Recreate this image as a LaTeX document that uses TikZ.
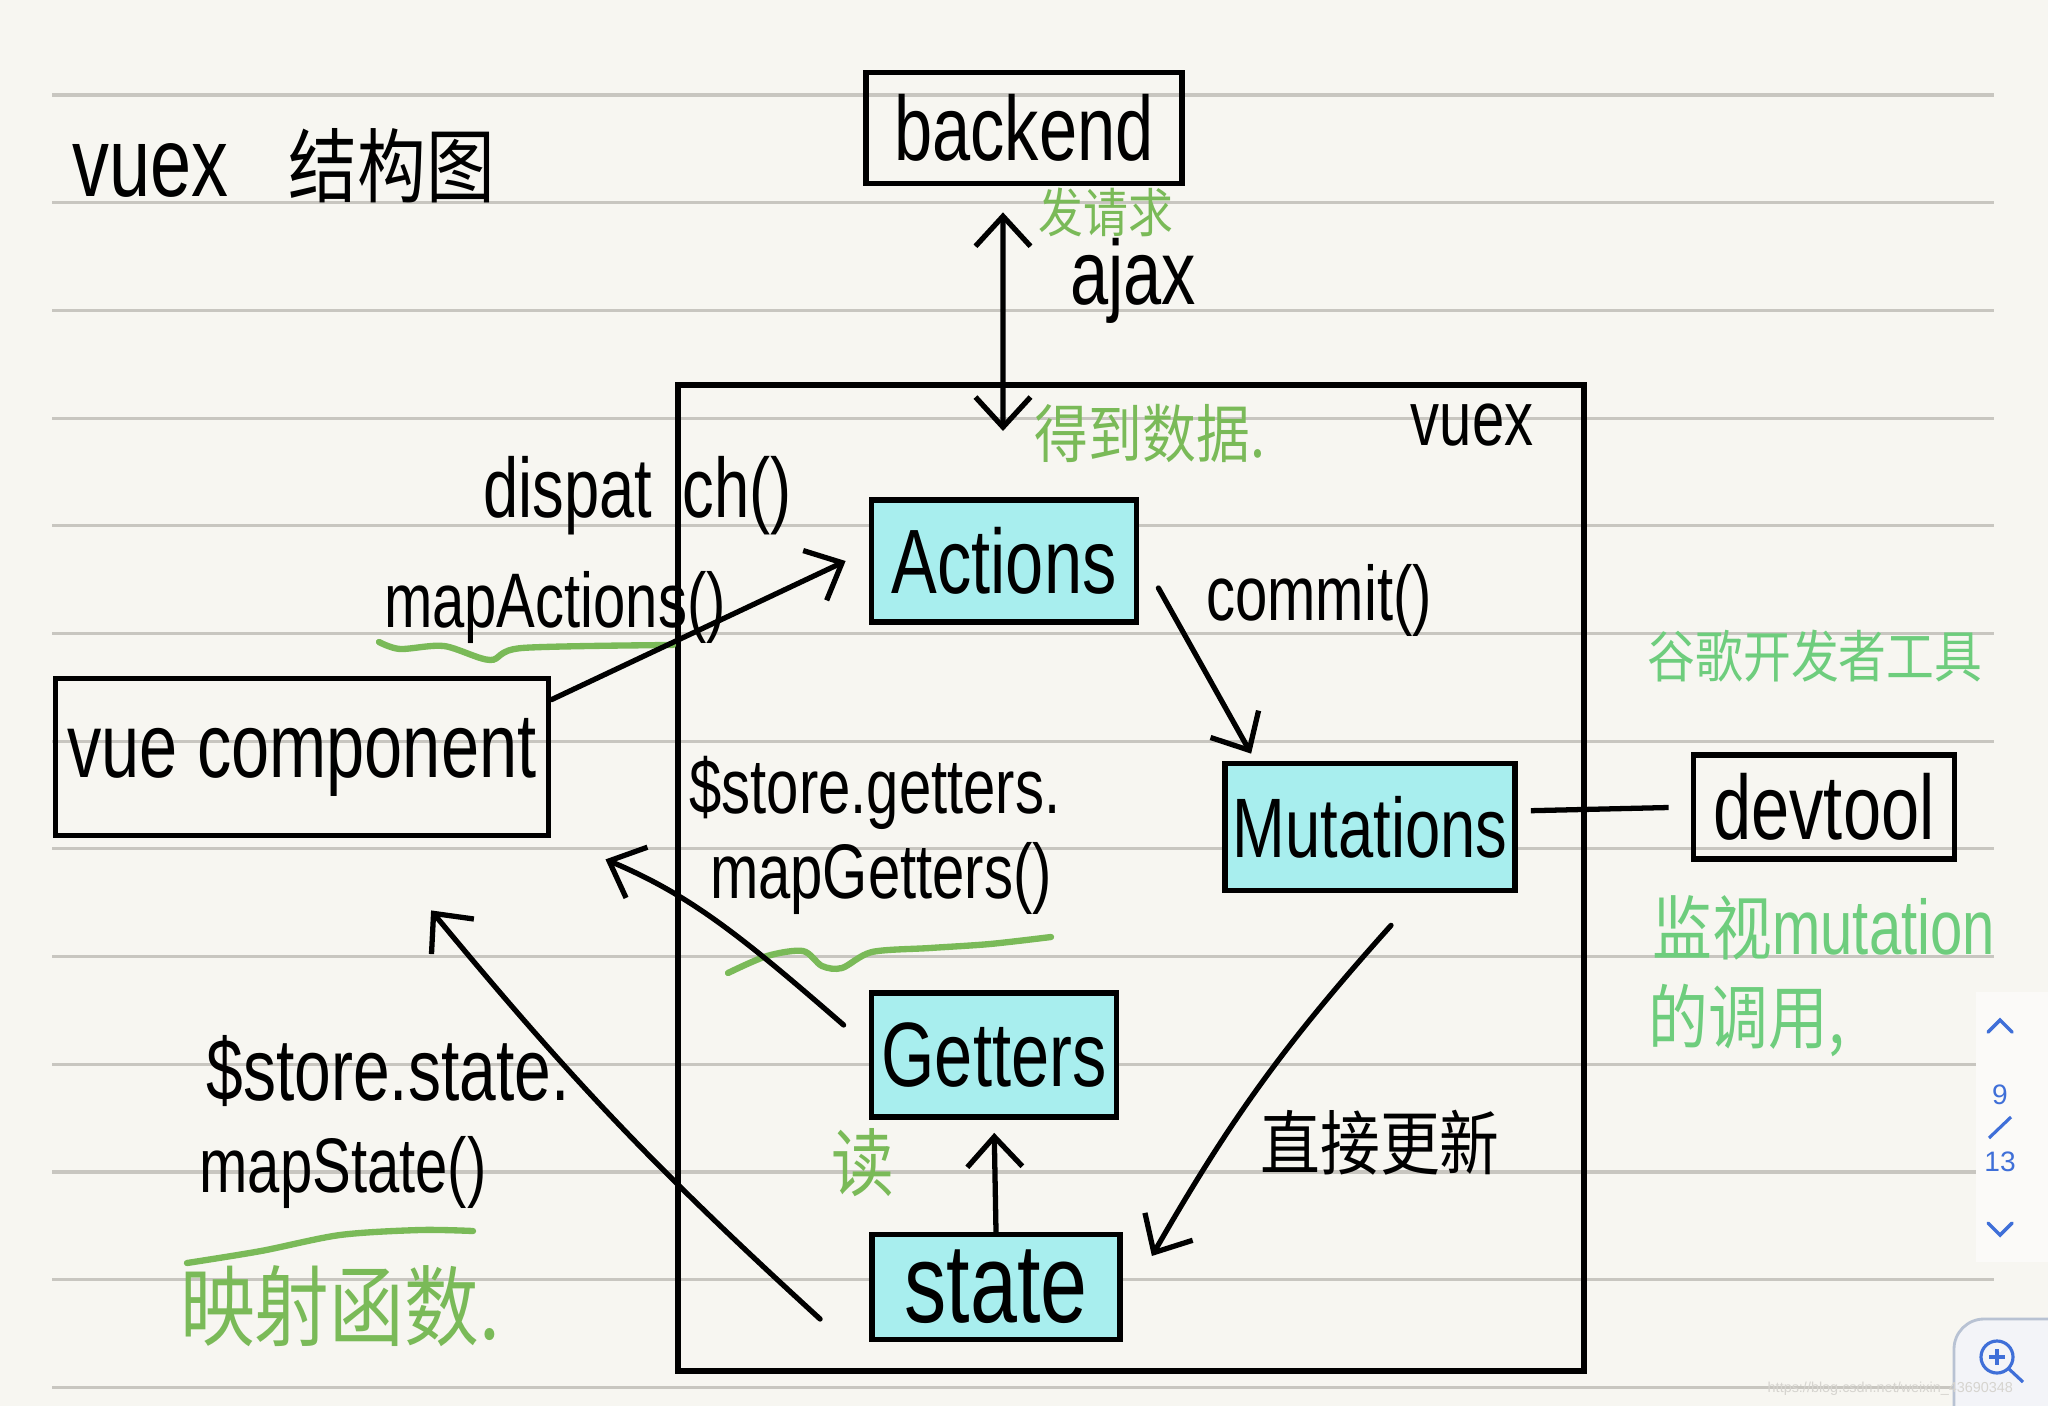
\documentclass[tikz,border=0pt]{standalone}
\usepackage{fontspec}
\setmainfont[FakeStretch=0.75]{Liberation Sans}
\newfontfamily\cjk[FakeStretch=0.85]{Noto Sans CJK SC}
\newfontfamily\uifont{Liberation Sans}
\usetikzlibrary{calc,positioning,arrows.meta,shapes}
\definecolor{paper}{HTML}{F7F6F1}
\definecolor{rulegray}{HTML}{C8C6C0}
\definecolor{hlcyan}{HTML}{A8EEEE}
\definecolor{pengreen}{HTML}{7ABA58}
\definecolor{lightgreen}{HTML}{6ECD7D}
\definecolor{uiblue}{HTML}{3F6FD8}
\definecolor{uibg}{HTML}{F3F4F8}
\definecolor{uiborder}{HTML}{B8C2D3}
\definecolor{wmgray}{HTML}{D6D4CF}
\newcommand\fsz[1]{\fontsize{#1}{#1}\selectfont}
\tikzset{
    block/.style={rectangle, draw=black, fill=hlcyan, line width=1.6pt, inner sep=0pt},
    plainbox/.style={rectangle, draw=black, line width=1.6pt, inner sep=0pt},
    line/.style={-{Straight Barb[length=3mm,width=5.5mm]}, line width=1.5pt, line cap=round},
    dline/.style={{Straight Barb[length=3mm,width=5.5mm]}-{Straight Barb[length=3mm,width=5.5mm]}, line width=1.5pt},
    lbl/.style={inner sep=0pt},
    note/.style={inner sep=0pt, text=pengreen},
    notebright/.style={inner sep=0pt, text=lightgreen},
    wave/.style={pengreen, line width=1.8pt, line cap=round},
}

\begin{document}
\begin{tikzpicture}
        [x=0.01cm, y=-0.01cm]

        % Paper and ruled lines
        \fill[paper] (0,0) rectangle (2048,1406);
        \useasboundingbox (0,0) rectangle (2048,1406);
        \foreach \k in {0,...,12}
            \draw[rulegray, line width=0.9pt] (52,95+107.7*\k) -- (1994,95+107.7*\k);
        \fill[paper!50!white] (1976,992) rectangle (2048,1262);

        % Title
        \node[lbl, anchor=west] (title) at (72,166) {\fsz{28}vuex\hspace{0.6cm}{\cjk\fsz{23}结构图}};

        % Nodes outside the store
        \node[plainbox, minimum width=3.16cm, minimum height=1.11cm] (backend) at (1024,128) {\fsz{26}backend};
        \node[plainbox, minimum width=4.93cm, minimum height=1.57cm] (vue) at (302,757) {\fsz{26}vue component};
        \node[plainbox, minimum width=2.61cm, minimum height=1.04cm] (devtool) at (1824,807) {\fsz{26}devtool};

        % The store and its parts
        \node[plainbox, minimum width=9.06cm, minimum height=9.86cm] (store) at (1131,878) {};
        \node[lbl] (vuexlbl) at (1472,425) {\fsz{22}vuex};
        \node[block, minimum width=2.65cm, minimum height=1.22cm] (actions) at (1004,561) {\fsz{26}Actions};
        \node[block, minimum width=2.90cm, minimum height=1.27cm] (mutations) at (1370,827) {\fsz{24}Mutations};
        \node[block, minimum width=2.45cm, minimum height=1.24cm] (getters) at (994,1055) {\fsz{26}Getters};
        \node[block, minimum width=2.48cm, minimum height=1.05cm] (state) at (996,1287) {\fsz{32}state};

        % Labels
        \node[note] (sendreq) at (1106,212) {\cjk\fsz{15}发请求};
        \node[lbl] (ajax) at (1133,281) {\fsz{26}ajax};
        \node[note] (gotdata) at (1150,434) {\cjk\fsz{18}得到数据.};
        \node[lbl, anchor=west] (dispatch) at (483,496) {\fsz{24}dispat\hspace{0.3cm}ch()};
        \node[lbl] (mapactions) at (555,607) {\fsz{22}mapActions()};
        \node[lbl] (commit) at (1319,600) {\fsz{22}commit()};
        \node[lbl] (gettersrc) at (875,793) {\fsz{22}\$store.getters.};
        \node[lbl] (mapgetters) at (881,878) {\fsz{22}mapGetters()};
        \node[lbl] (statesrc) at (388,1071) {\fsz{25}\$store.state.};
        \node[lbl] (mapstate) at (343,1172) {\fsz{22}mapState()};
        \node[note] (mapfn) at (340,1306) {\cjk\fsz{25}映射函数.};
        \node[note] (read) at (863,1163) {\cjk\fsz{21}读};
        \node[lbl] (directupd) at (1380,1143) {\cjk\fsz{20}直接更新};
        \node[notebright] (devnote) at (1815,656) {\cjk\fsz{16}谷歌开发者工具};
        \node[notebright, anchor=west] (watchnote) at (1652,928) {{\cjk\fsz{20}监视}\fsz{22}mutation};
        \node[notebright, anchor=west] (callnote) at (1648,1020) {\cjk\fsz{20}的调用,};

        % Green underlines
        \draw[wave] plot[smooth] coordinates {(379,642) (400,649) (444,646) (490,660) (522,648) (673,645)};
        \draw[wave] plot[smooth] coordinates {(728,973) (767,956) (803,951) (822,966) (842,968) (872,952) (930,948) (990,944) (1051,937)};
        \draw[wave] plot[smooth] coordinates {(187,1263) (261,1251) (340,1235) (420,1230) (473,1231)};

        % Lines
        \coordinate (getdata) at (1003,431);
        \draw[dline] ([xshift=-0.21cm,yshift=-0.26cm]backend.south) -- (getdata);
        \draw[line] ([yshift=-0.24cm]vue.north east) -- ([xshift=-0.23cm]actions.west);
        \draw[line] ([xshift=0.19cm,yshift=-0.27cm]actions.east) -- ([xshift=0.29cm,yshift=0.07cm]mutations.north west);
        \draw[line width=1.5pt, shorten <=0.13cm, shorten >=0.22cm] ([yshift=0.16cm]mutations.east) -- (devtool.west);
        \draw[line] ([xshift=0.21cm,yshift=-0.32cm]mutations.south) to[bend right=6] ([xshift=0.29cm,yshift=0.31cm]state.east);
        \draw[line, shorten >=0.13cm] (state.north) -- (getters.south);
        \draw[line] ([xshift=-0.25cm,yshift=0.30cm]getters.west) .. controls (740,935) and (690,895) .. ([xshift=0.54cm,yshift=-0.21cm]vue.south east);
        \draw[line] ([xshift=-0.49cm,yshift=-0.32cm]state.west) to[bend left=4] ([xshift=1.29cm,yshift=-0.72cm]vue.south);

        % Page indicator
        \draw[uiblue, line width=1pt, line cap=round] (1988,1032) -- (2000,1020) -- (2012,1032);
        \node[lbl, text=uiblue] (pagenum) at (2000,1095) {\uifont\fsz{8}9};
        \draw[uiblue, line width=0.9pt] (1989,1138) -- (2011,1117);
        \node[lbl, text=uiblue] (pagetotal) at (2000,1162) {\uifont\fsz{8}13};
        \draw[uiblue, line width=1pt, line cap=round] (1988,1223) -- (2000,1235) -- (2012,1223);

        % Zoom button and watermark
        \begin{scope}
            \clip (0,0) rectangle (2048,1406);
            \draw[fill=uibg, draw=uiborder, line width=0.8pt, rounded corners=0.3cm] (1954,1319) rectangle (2080,1440);
        \end{scope}
        \draw[uiblue, line width=0.9pt] (1997,1357) circle (0.16cm);
        \draw[uiblue, line width=0.9pt] (2009,1369) -- (2023,1382);
        \draw[uiblue, line width=0.9pt] (1989,1357) -- (2005,1357) (1997,1349) -- (1997,1365);
        \node[lbl, anchor=base west, text=wmgray] (watermark) at (1767,1392) {\uifont\fsz{4.1}https://blog.csdn.net/weixin\_43690348};

    \end{tikzpicture}
\end{document}
